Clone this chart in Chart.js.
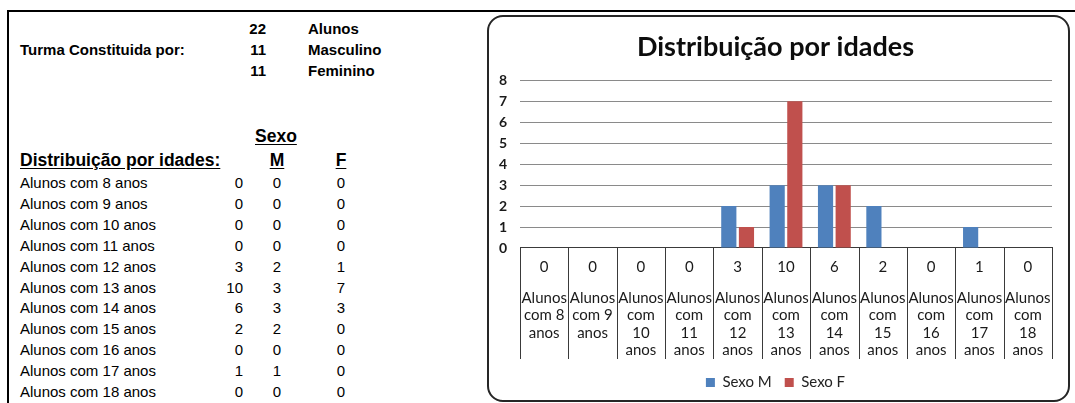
<!DOCTYPE html>
<html>
<head>
<meta charset="utf-8">
<script src="https://cdn.jsdelivr.net/npm/chart.js@4.4.1/dist/chart.umd.min.js"></script>
<style>
  html, body { margin: 0; padding: 0; background: #fff; }
  body { width: 1075px; height: 403px; position: relative; overflow: hidden;
         font-family: "Liberation Sans", Arial, sans-serif; color: #000; }
  #frame { position: absolute; left: 7px; top: 10px; right: -10px; bottom: -10px;
           border-top: 2px solid #000; border-left: 2px solid #000; }
  .t { position: absolute; height: 20px; line-height: 20px; font-size: 15px; white-space: nowrap; }
  .b { font-weight: bold; }
  .h { font-weight: bold; font-size: 17.5px; text-decoration: underline; text-underline-offset: 2px; }
  .r { text-align: right; }
  .c { text-align: center; }
  #box { position: absolute; left: 487px; top: 15px; width: 579px; height: 383px;
         border: 2px solid #262626; border-radius: 16px; background: #fff; overflow: hidden; }
  #box canvas { position: absolute; left: 0; top: 0; }
</style>
</head>
<body>
<div id="frame"></div>
<div id="sheet"></div>
<div id="box"><canvas id="chart" width="579" height="383"></canvas></div>
<script>
// Class summary
const resumoValores = [22, 11, 11];
const resumoRotulos = ['Alunos', 'Masculino', 'Feminino'];

// Age distribution
const idades = ['Alunos com 8 anos', 'Alunos com 9 anos', 'Alunos com 10 anos', 'Alunos com 11 anos',
                'Alunos com 12 anos', 'Alunos com 13 anos', 'Alunos com 14 anos', 'Alunos com 15 anos',
                'Alunos com 16 anos', 'Alunos com 17 anos', 'Alunos com 18 anos'];
const totais = [0, 0, 0, 0, 3, 10, 6, 2, 0, 1, 0];
const sexoM  = [0, 0, 0, 0, 2, 3, 3, 2, 0, 1, 0];
const sexoF  = [0, 0, 0, 0, 1, 7, 3, 0, 0, 0, 0];

// Wrapped category labels for the table under the chart
const rotulosEixo = [
  ['Alunos', 'com 8', 'anos'], ['Alunos', 'com 9', 'anos'],
  ['Alunos', 'com', '10', 'anos'], ['Alunos', 'com', '11', 'anos'],
  ['Alunos', 'com', '12', 'anos'], ['Alunos', 'com', '13', 'anos'],
  ['Alunos', 'com', '14', 'anos'], ['Alunos', 'com', '15', 'anos'],
  ['Alunos', 'com', '16', 'anos'], ['Alunos', 'com', '17', 'anos'],
  ['Alunos', 'com', '18', 'anos']
];
const yMax = 8;

// ---- spreadsheet text on the left ----
const sheet = document.getElementById('sheet');
function cell(text, cls, left, centerY, width) {
  const d = document.createElement('div');
  d.className = 't ' + cls;
  d.textContent = text;
  d.style.left = left + 'px';
  d.style.top = (centerY - 10) + 'px';
  if (width) d.style.width = width + 'px';
  sheet.appendChild(d);
}
cell('Turma Constituida por:', 'b', 20, 50);
resumoValores.forEach((v, i) => {
  const cy = 29 + i * 21;
  cell(String(v), 'b r', 236, cy, 30);
  cell(resumoRotulos[i], 'b', 308, cy);
});
cell('Sexo', 'h', 255, 136);
cell('Distribuição por idades:', 'h', 20, 160);
cell('M', 'h c', 257, 160, 40);
cell('F', 'h c', 321, 160, 40);
idades.forEach((nome, i) => {
  const cy = 183 + i * 20.9;
  cell(nome, '', 20, cy);
  cell(String(totais[i]), 'r', 193, cy, 50);
  cell(String(sexoM[i]), 'c', 257, cy, 40);
  cell(String(sexoF[i]), 'c', 321, cy, 40);
});

// ---- chart ----
Chart.defaults.font.family = 'Lato, "Open Sans", sans-serif';
Chart.defaults.color = '#1a1a1a';

// Vertical separators of the data table below the plot
const tabelaDados = {
  id: 'tabelaDados',
  afterDraw(chart) {
    const xs = chart.scales.x, x2 = chart.scales.x2;
    const n = xs.getLabels().length;
    const w = (xs.right - xs.left) / n;
    const ctx = chart.ctx;
    ctx.save();
    ctx.strokeStyle = '#3a3a3a';
    ctx.lineWidth = 1;
    for (let i = 0; i <= n; i++) {
      const px = Math.round(xs.left + i * w) + 0.5;
      ctx.beginPath();
      ctx.moveTo(px, chart.chartArea.bottom);
      ctx.lineTo(px, x2.bottom - 3);
      ctx.stroke();
    }
    ctx.restore();
  }
};

new Chart(document.getElementById('chart'), {
  type: 'bar',
  data: {
    labels: idades,
    datasets: [
      { label: 'Sexo M', data: sexoM, backgroundColor: '#4F81BD' },
      { label: 'Sexo F', data: sexoF, backgroundColor: '#C0504D' }
    ]
  },
  options: {
    responsive: false,
    devicePixelRatio: 1,
    animation: false,
    categoryPercentage: 0.73,
    barPercentage: 0.86,
    layout: { padding: { left: 10, right: 16, top: 0, bottom: 0 } },
    plugins: {
      title: {
        display: true,
        text: 'Distribuição por idades',
        color: '#0d0d0d',
        font: { size: 27, weight: 'bold' },
        padding: { top: 14, bottom: 17 }
      },
      legend: {
        position: 'bottom',
        labels: { boxWidth: 9, boxHeight: 9, font: { size: 15 }, color: '#222', padding: 13 }
      },
      tooltip: { enabled: false }
    },
    scales: {
      y: {
        min: 0, max: yMax,
        afterFit(scale) { scale.width = 21; },
        ticks: { stepSize: 1, padding: 13, font: { size: 14, weight: 'bold' }, color: '#1a1a1a' },
        grid: { color: '#8a8a8a', lineWidth: 1, drawTicks: false },
        border: { display: false }
      },
      x: {
        position: 'bottom', weight: 0, offset: true,
        grid: { display: false, drawTicks: false },
        border: { display: true, color: '#3a3a3a', width: 1 },
        ticks: {
          autoSkip: false, maxRotation: 0, padding: 10,
          font: { size: 15 }, color: '#1a1a1a',
          callback: (v, i) => String(totais[i])
        }
      },
      x2: {
        type: 'category', labels: rotulosEixo,
        position: 'bottom', weight: 1, offset: true,
        grid: { display: false, drawTicks: false },
        border: { display: false },
        ticks: {
          autoSkip: false, maxRotation: 0, padding: 3,
          font: { size: 15, lineHeight: 1.1667 }, color: '#1a1a1a'
        }
      }
    }
  },
  plugins: [tabelaDados]
});
</script>
</body>
</html>
